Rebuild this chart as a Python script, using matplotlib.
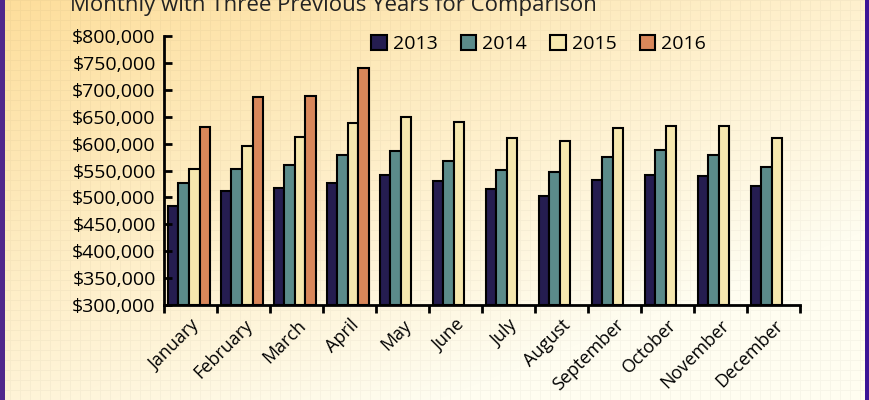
import numpy as np
import matplotlib.pyplot as plt
from matplotlib.ticker import FuncFormatter

months = ["January", "February", "March", "April", "May", "June", "July",
          "August", "September", "October", "November", "December"]
y2013 = [484, 511, 518, 527, 542, 530, 515, 503, 532, 542, 539, 521]
y2014 = [527, 553, 560, 578, 586, 568, 551, 547, 575, 589, 578, 557]
y2015 = [553, 596, 613, 638, 650, 641, 610, 604, 629, 632, 632, 610]
y2016 = [631, 686, 689, 741]
years = ["2013", "2014", "2015", "2016"]
colors = ["#251d50", "#5b8b8a", "#f6e8ae", "#d9875a"]

plt.rcParams['font.family'] = ['Open Sans', 'DejaVu Sans']

fig = plt.figure(figsize=(8.7, 4.0), dpi=100)

# background gradient with faint grid and purple side borders
bg = fig.add_axes([0, 0, 1, 1])
h, w = 400, 870
yy, xx = np.mgrid[0:h, 0:w]
t = np.clip((xx / w * 0.6 + yy / h * 0.7), 0, 1)[..., None]
top = np.array([253, 222, 155]) / 255
bot = np.array([255, 253, 240]) / 255
img = top * (1 - t) + bot * t
grid = ((xx % 10 == 0) | (yy % 10 == 0))[..., None]
img = np.where(grid, img * 0.97, img)
img[:, :5] = np.array([80, 40, 140]) / 255
img[:, 865:] = np.array([60, 20, 150]) / 255
bg.imshow(img, aspect='auto', extent=[0, 1, 0, 1])
bg.axis('off')

ax = fig.add_axes([0.1885, 0.2375, 0.731, 0.6725])
ax.patch.set_alpha(0)
x = np.arange(len(months))
bw = 0.2
series = [y2013, y2014, y2015, y2016]
for i, (vals, c, lab) in enumerate(zip(series, colors, years)):
    xs = x[:len(vals)] + 0.5 + (i - 1.5) * bw - 0.03
    ax.bar(xs, np.array(vals) * 1000 - 300000, bottom=300000, width=bw,
           color=c, edgecolor='black', linewidth=1.5, label=lab)

ax.set_xlim(0, 12)
ax.set_ylim(300000, 800000)
ax.set_yticks(np.arange(300000, 800001, 50000))
ax.yaxis.set_major_formatter(FuncFormatter(lambda v, p: f"${v:,.0f}"))
ax.set_xticks(x + 0.5)
ax.set_xticklabels(months, rotation=45, ha='right', rotation_mode='anchor')
ax.set_xticks(np.arange(0, 13), minor=True)
ax.tick_params(axis='x', which='major', length=0, labelsize=13, pad=8)
ax.tick_params(axis='x', which='minor', length=6, width=2, direction='out')
ax.tick_params(axis='y', length=6, width=2, direction='in', labelsize=14, pad=6)
for s in ['top', 'right']:
    ax.spines[s].set_visible(False)
for s in ['left', 'bottom']:
    ax.spines[s].set_linewidth(2)

ax.legend(loc='upper right', bbox_to_anchor=(0.88, 1.07), ncol=4, frameon=False,
          fontsize=14, handlelength=0.8, handleheight=0.8, handletextpad=0.3,
          columnspacing=1.2)

fig.text(0.383, 0.985, "Monthly with Three Previous Years for Comparison",
         ha='center', va='center', fontsize=16, color='#222222')

fig.savefig("out.png", dpi=100)
